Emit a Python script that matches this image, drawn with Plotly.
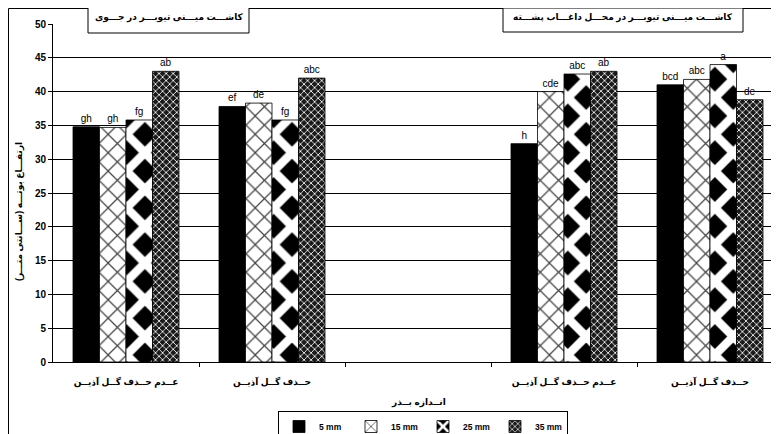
import plotly.graph_objects as go

# ---- data ----
categories = ["عــدم حــذف گــل آذیــن", "حــذف گــل آذیــن", "", "عــدم حــذف گــل آذیــن", "حــذف گــل آذیــن"]
series_names = ["5 mm", "15 mm", "25 mm", "35 mm"]
v5 = [34.8, 37.8, None, 32.3, 41.0]
v15 = [34.7, 38.3, None, 40.0, 41.8]
v25 = [35.8, 35.8, None, 42.6, 44.0]
v35 = [43.0, 42.0, None, 43.0, 38.8]
l5 = ["gh", "ef", "", "h", "bcd"]
l15 = ["gh", "de", "", "cde", "abc"]
l25 = ["fg", "fg", "", "abc", "a"]
l35 = ["ab", "abc", "", "ab", "de"]
y_ticks = [0, 5, 10, 15, 20, 25, 30, 35, 40, 45, 50]
title_left = "کاشـــت میـــنی تیوبـــر در جـــوی"
title_right = "کاشـــت میـــنی تیوبـــر در محـــل داغـــاب پشـــته"
x_title = "انــدازه بــذر"
y_title = "ارتفـــاع بوتـــه (ســـانتی متـــر)"

FONT = "Arial, 'Liberation Sans', 'DejaVu Sans', sans-serif"
xs = list(range(len(categories)))

patterns = [
    dict(shape=""),
    dict(shape="x", fgcolor="#444444", bgcolor="white", size=13, solidity=0.18, fgopacity=1),
    dict(shape="x", fgcolor="white", bgcolor="black", size=26, solidity=0.55, fgopacity=1),
    dict(shape="x", fgcolor="white", bgcolor="#1a1a1a", size=5, solidity=0.3, fgopacity=1),
]
colors = ["black", "white", "black", "#1a1a1a"]
values = [v5, v15, v25, v35]
labels = [l5, l15, l25, l35]

fig = go.Figure()
for name, vals, labs, pat, col in zip(series_names, values, labels, patterns, colors):
    fig.add_trace(go.Bar(
        x=xs, y=vals, name=name, text=labs, textposition="outside",
        textfont=dict(family=FONT, size=10, color="black"),
        cliponaxis=False,
        marker=dict(color=col, pattern=pat, line=dict(color="black", width=0.8)),
    ))

OFF = 8  # page body margin
W, H = 779 - OFF, 434 - OFF
L, T = 53 - OFF, 24 - OFF
B = H - (362 - OFF)
pw = W - L
ph = H - T - B

# helpers take coordinates measured on the 779x434 window
def px_x(p):
    return (p - OFF - L) / pw

def px_y(p):
    return (H - B - (p - OFF)) / ph

box = lambda x0, x1, y0, y1: dict(type="rect", xref="paper", yref="paper",
                                  x0=px_x(x0), x1=px_x(x1), y0=px_y(y1), y1=px_y(y0),
                                  line=dict(color="black", width=1), fillcolor="white", layer="above")

fig.update_layout(
    width=W, height=H,
    margin=dict(l=L, r=0, t=T, b=B, autoexpand=False),
    paper_bgcolor="white", plot_bgcolor="white",
    barmode="group", bargap=0.274, bargroupgap=0,
    font=dict(family=FONT, size=9, color="black"),
    showlegend=True,
    legend=dict(
        orientation="h", x=px_x(423), xanchor="center", y=px_y(411), yanchor="top",
        bordercolor="black", borderwidth=1, bgcolor="white",
        font=dict(family=FONT, size=8.5, color="black", weight="bold"),
        itemwidth=30, entrywidth=27, entrywidthmode="pixels", tracegroupgap=0,
    ),
    xaxis=dict(
        range=[-0.5, 4.5 - 4 / 146.0], tickvals=xs, ticktext=categories,
        ticks="", showgrid=False, showline=True, linecolor="black", linewidth=1,
        tickfont=dict(family=FONT, size=9, color="black", weight="bold"),
        ticklabelstandoff=11,
        minor=dict(tickvals=[0.5, 1.5, 2.5, 3.5], ticks="outside", ticklen=4,
                   tickcolor="black", tickwidth=1, showgrid=False),
        zeroline=False,
    ),
    yaxis=dict(
        range=[0, 50], tickvals=y_ticks, ticks="outside", ticklen=4,
        tickcolor="black", showline=True, linecolor="black", linewidth=1,
        showgrid=True, gridcolor="black", gridwidth=1, zeroline=False,
        tickfont=dict(family=FONT, size=10, color="black", weight="bold"),
    ),
    annotations=[
        dict(text=title_left, xref="paper", yref="paper", x=px_x(169), y=px_y(18),
             xanchor="center", yanchor="middle", showarrow=False,
             font=dict(family=FONT, size=9, color="black", weight="bold")),
        dict(text=title_right, xref="paper", yref="paper", x=px_x(623), y=px_y(18),
             xanchor="center", yanchor="middle", showarrow=False,
             font=dict(family=FONT, size=9, color="black", weight="bold")),
        dict(text=x_title, xref="paper", yref="paper", x=px_x(418), y=px_y(402),
             xanchor="center", yanchor="middle", showarrow=False,
             font=dict(family=FONT, size=9, color="black", weight="bold")),
        dict(text=y_title, xref="paper", yref="paper", x=px_x(20), y=px_y(212),
             xanchor="center", yanchor="middle", showarrow=False, textangle=-90,
             font=dict(family=FONT, size=9, color="black", weight="bold")),
    ],
    shapes=[
        dict(type="rect", xref="paper", yref="paper", x0=px_x(8.5), x1=px_x(800),
             y0=px_y(460), y1=px_y(8.5), line=dict(color="black", width=1), layer="below"),
        box(88, 249, 7, 33),
        box(503, 743, 8, 32),
    ],
)

fig.write_html("out.html")
